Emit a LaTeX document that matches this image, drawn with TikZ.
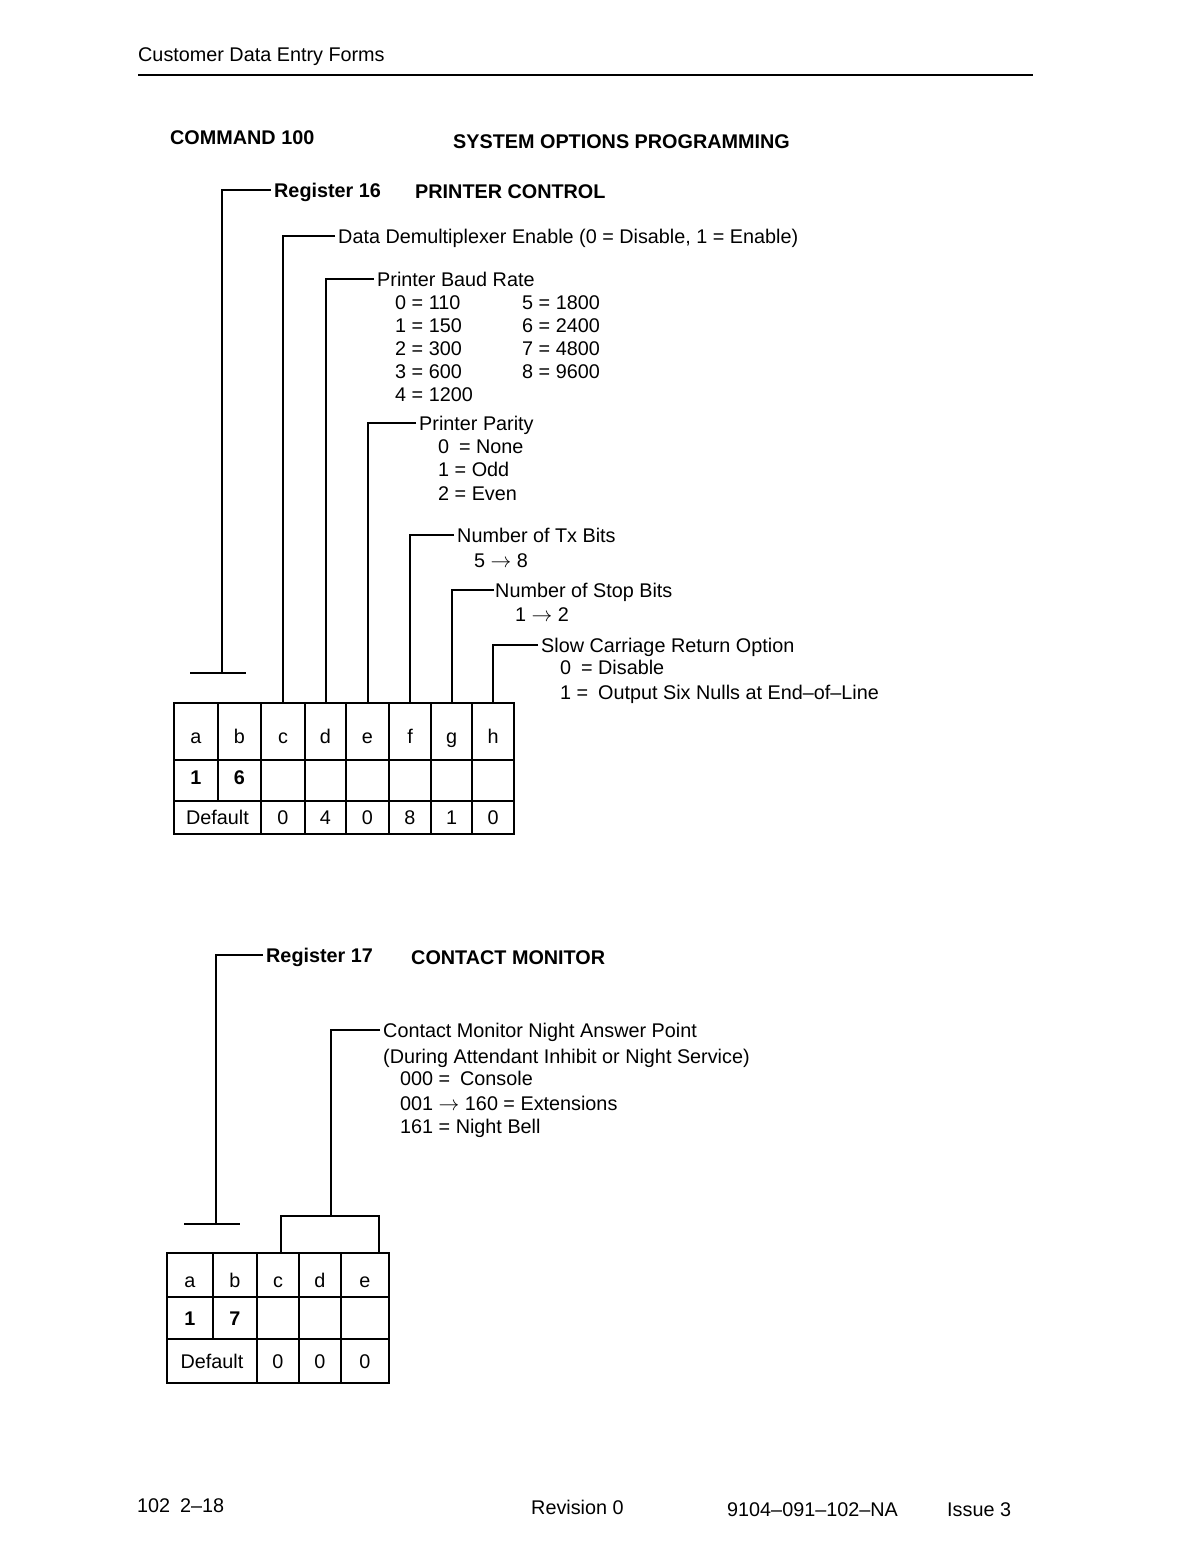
\documentclass[tikz,border=0pt]{standalone}
\usepackage{fontspec}
\setmainfont{Liberation Sans}
\newcommand\ra{\(\rightarrow\)}
\newcommand\tcell[6]{\node[cell, minimum width={#4pt-#2pt}, minimum height={#5pt-#3pt}] (#1) at ({(#2+#4)/2},{(#3+#5)/2}) {#6};}
\begin{document}
\begin{tikzpicture}[x=1pt,y=-1pt,
  lbl/.style={anchor=west, inner xsep=3pt, inner ysep=0pt, text height=14pt, text depth=0pt, font=\fontsize{19.8}{23}\selectfont},
  hd/.style={lbl, font=\fontsize{19.8}{23}\selectfont\bfseries},
  brk/.style={line width=2pt},
  cell/.style={draw, line width=2pt, inner sep=0pt, outer sep=0pt, text height=14pt, text depth=0pt, font=\fontsize{19.8}{23}\selectfont},
  down/.style={text height=24pt},
  up/.style={text depth=6pt}]
\useasboundingbox (0,0) rectangle (1192,1568);
% header
\node[lbl] (hdr) at (135,55) {Customer Data Entry Forms};
\coordinate (hl) at (138,75);
\coordinate (hr) at (1033,75);
\draw[line width=2pt] (hl) -- (hr);
\node[hd] (cmd) at (167,138) {COMMAND 100};
\node[hd] (sop) at (450,142) {SYSTEM OPTIONS PROGRAMMING};
% ---------- Register 16
\node[hd] (r16) at (271,190) {Register 16};
\node[hd] (pc) at (412,191) {PRINTER CONTROL};
\node[lbl] (lc) at (335,236) {Data Demultiplexer Enable (0 = Disable, 1 = Enable)};
\node[lbl] (ld) at (374,279) {Printer Baud Rate};
\node[lbl] (b0) at (392,302) {0 = 110};
\node[lbl] (b1) at (392,325) {1 = 150};
\node[lbl] (b2) at (392,348) {2 = 300};
\node[lbl] (b3) at (392,371) {3 = 600};
\node[lbl] (b4) at (392,394) {4 = 1200};
\node[lbl] (b5) at (519,302) {5 = 1800};
\node[lbl] (b6) at (519,325) {6 = 2400};
\node[lbl] (b7) at (519,348) {7 = 4800};
\node[lbl] (b8) at (519,371) {8 = 9600};
\node[lbl] (le) at (416,423) {Printer Parity};
\node[lbl] (p0) at (435,446) {0\enspace = None};
\node[lbl] (p1) at (435,469) {1 = Odd};
\node[lbl] (p2) at (435,493) {2 = Even};
\node[lbl] (lf) at (454,535) {Number of Tx Bits};
\node[lbl] (tx) at (471,560) {5 \ra\ 8};
\node[lbl, inner xsep=0pt] (lg) at (495,590) {Number of Stop Bits};
\node[lbl] (sb) at (512,614) {1 \ra\ 2};
\node[lbl] (lh) at (538,645) {Slow Carriage Return Option};
\node[lbl] (s0) at (557,667) {0\enspace = Disable};
\node[lbl] (s1) at (557,692) {1 =\enspace Output Six Nulls at End–of–Line};
% table 1
\begin{scope}[cell/.append style={down}]
\tcell{t1a}{174}{703}{218}{760}{a}
\tcell{t1b}{218}{703}{261}{760}{b}
\tcell{t1c}{261}{703}{305}{760}{c}
\tcell{t1d}{305}{703}{346}{760}{d}
\tcell{t1e}{346}{703}{389}{760}{e}
\tcell{t1f}{389}{703}{431}{760}{f}
\tcell{t1g}{431}{703}{472}{760}{g}
\tcell{t1h}{472}{703}{514}{760}{h}
\end{scope}
\begin{scope}[cell/.append style={up}]
\tcell{t1a2}{174}{760}{218}{801}{\bfseries 1}
\tcell{t1b2}{218}{760}{261}{801}{\bfseries 6}
\end{scope}
\tcell{t1c2}{261}{760}{305}{801}{}
\tcell{t1d2}{305}{760}{346}{801}{}
\tcell{t1e2}{346}{760}{389}{801}{}
\tcell{t1f2}{389}{760}{431}{801}{}
\tcell{t1g2}{431}{760}{472}{801}{}
\tcell{t1h2}{472}{760}{514}{801}{}
\tcell{t1ab3}{174}{801}{261}{834}{Default}
\tcell{t1c3}{261}{801}{305}{834}{0}
\tcell{t1d3}{305}{801}{346}{834}{4}
\tcell{t1e3}{346}{801}{389}{834}{0}
\tcell{t1f3}{389}{801}{431}{834}{8}
\tcell{t1g3}{431}{801}{472}{834}{1}
\tcell{t1h3}{472}{801}{514}{834}{0}
\draw[line width=2.6pt] (174,703) rectangle (514,834);
% brackets reg 16
\coordinate (t16) at (222,673);
\coordinate (t16l) at (190,673);
\coordinate (t16r) at (246,673);
\draw[brk] (r16.west) -| (t16);
\draw[brk] (t16l) -- (t16r);
\draw[brk] (lc.west) -| (t1c.north);
\draw[brk] (ld.west) -| (t1d.north);
\draw[brk] (le.west) -| (t1e.north);
\draw[brk] (lf.west) -| (t1f.north);
\draw[brk] ([xshift=-1pt]lg.west) -| (t1g.north);
\draw[brk] (lh.west) -| (t1h.north);
% ---------- Register 17
\node[hd] (r17) at (263,955) {Register 17};
\node[hd] (cm) at (408,957) {CONTACT MONITOR};
\node[lbl] (lcm) at (380,1030) {Contact Monitor Night Answer Point};
\node[lbl] (cm1) at (380,1056) {(During Attendant Inhibit or Night Service)};
\node[lbl] (cm2) at (397,1078) {000 =\enspace Console};
\node[lbl] (cm3) at (397,1103) {001 \ra\ 160 = Extensions};
\node[lbl] (cm4) at (397,1126) {161 = Night Bell};
% table 2
\begin{scope}[cell/.append style={down}]
\tcell{t2a}{167}{1253}{213}{1297}{a}
\tcell{t2b}{213}{1253}{257}{1297}{b}
\tcell{t2c}{257}{1253}{299}{1297}{c}
\tcell{t2d}{299}{1253}{341}{1297}{d}
\tcell{t2e}{341}{1253}{389}{1297}{e}
\end{scope}
\tcell{t2a2}{167}{1297}{213}{1339}{\bfseries 1}
\tcell{t2b2}{213}{1297}{257}{1339}{\bfseries 7}
\tcell{t2c2}{257}{1297}{299}{1339}{}
\tcell{t2d2}{299}{1297}{341}{1339}{}
\tcell{t2e2}{341}{1297}{389}{1339}{}
\tcell{t2ab3}{167}{1339}{257}{1383}{Default}
\tcell{t2c3}{257}{1339}{299}{1383}{0}
\tcell{t2d3}{299}{1339}{341}{1383}{0}
\tcell{t2e3}{341}{1339}{389}{1383}{0}
\draw[line width=2.6pt] (167,1253) rectangle (389,1383);
% brackets reg 17
\coordinate (t17) at (216,1224);
\coordinate (t17l) at (184,1224);
\coordinate (t17r) at (240,1224);
\draw[brk] (r17.west) -| (t17);
\draw[brk] (t17l) -- (t17r);
\coordinate (bx) at (331,1216);
\coordinate (bxl) at (281,1253);
\coordinate (bxr) at (379,1253);
\draw[brk] (lcm.west) -| (bx);
\draw[brk] (bxl) |- (bx) -| (bxr);
% footer
\node[lbl] (f1) at (134,1505) {102\enspace 2–18};
\node[lbl] (f2) at (528,1507) {Revision 0};
\node[lbl] (f3) at (724,1509) {9104–091–102–NA};
\node[lbl] (f4) at (944,1509) {Issue 3};
\end{tikzpicture}
\end{document}
